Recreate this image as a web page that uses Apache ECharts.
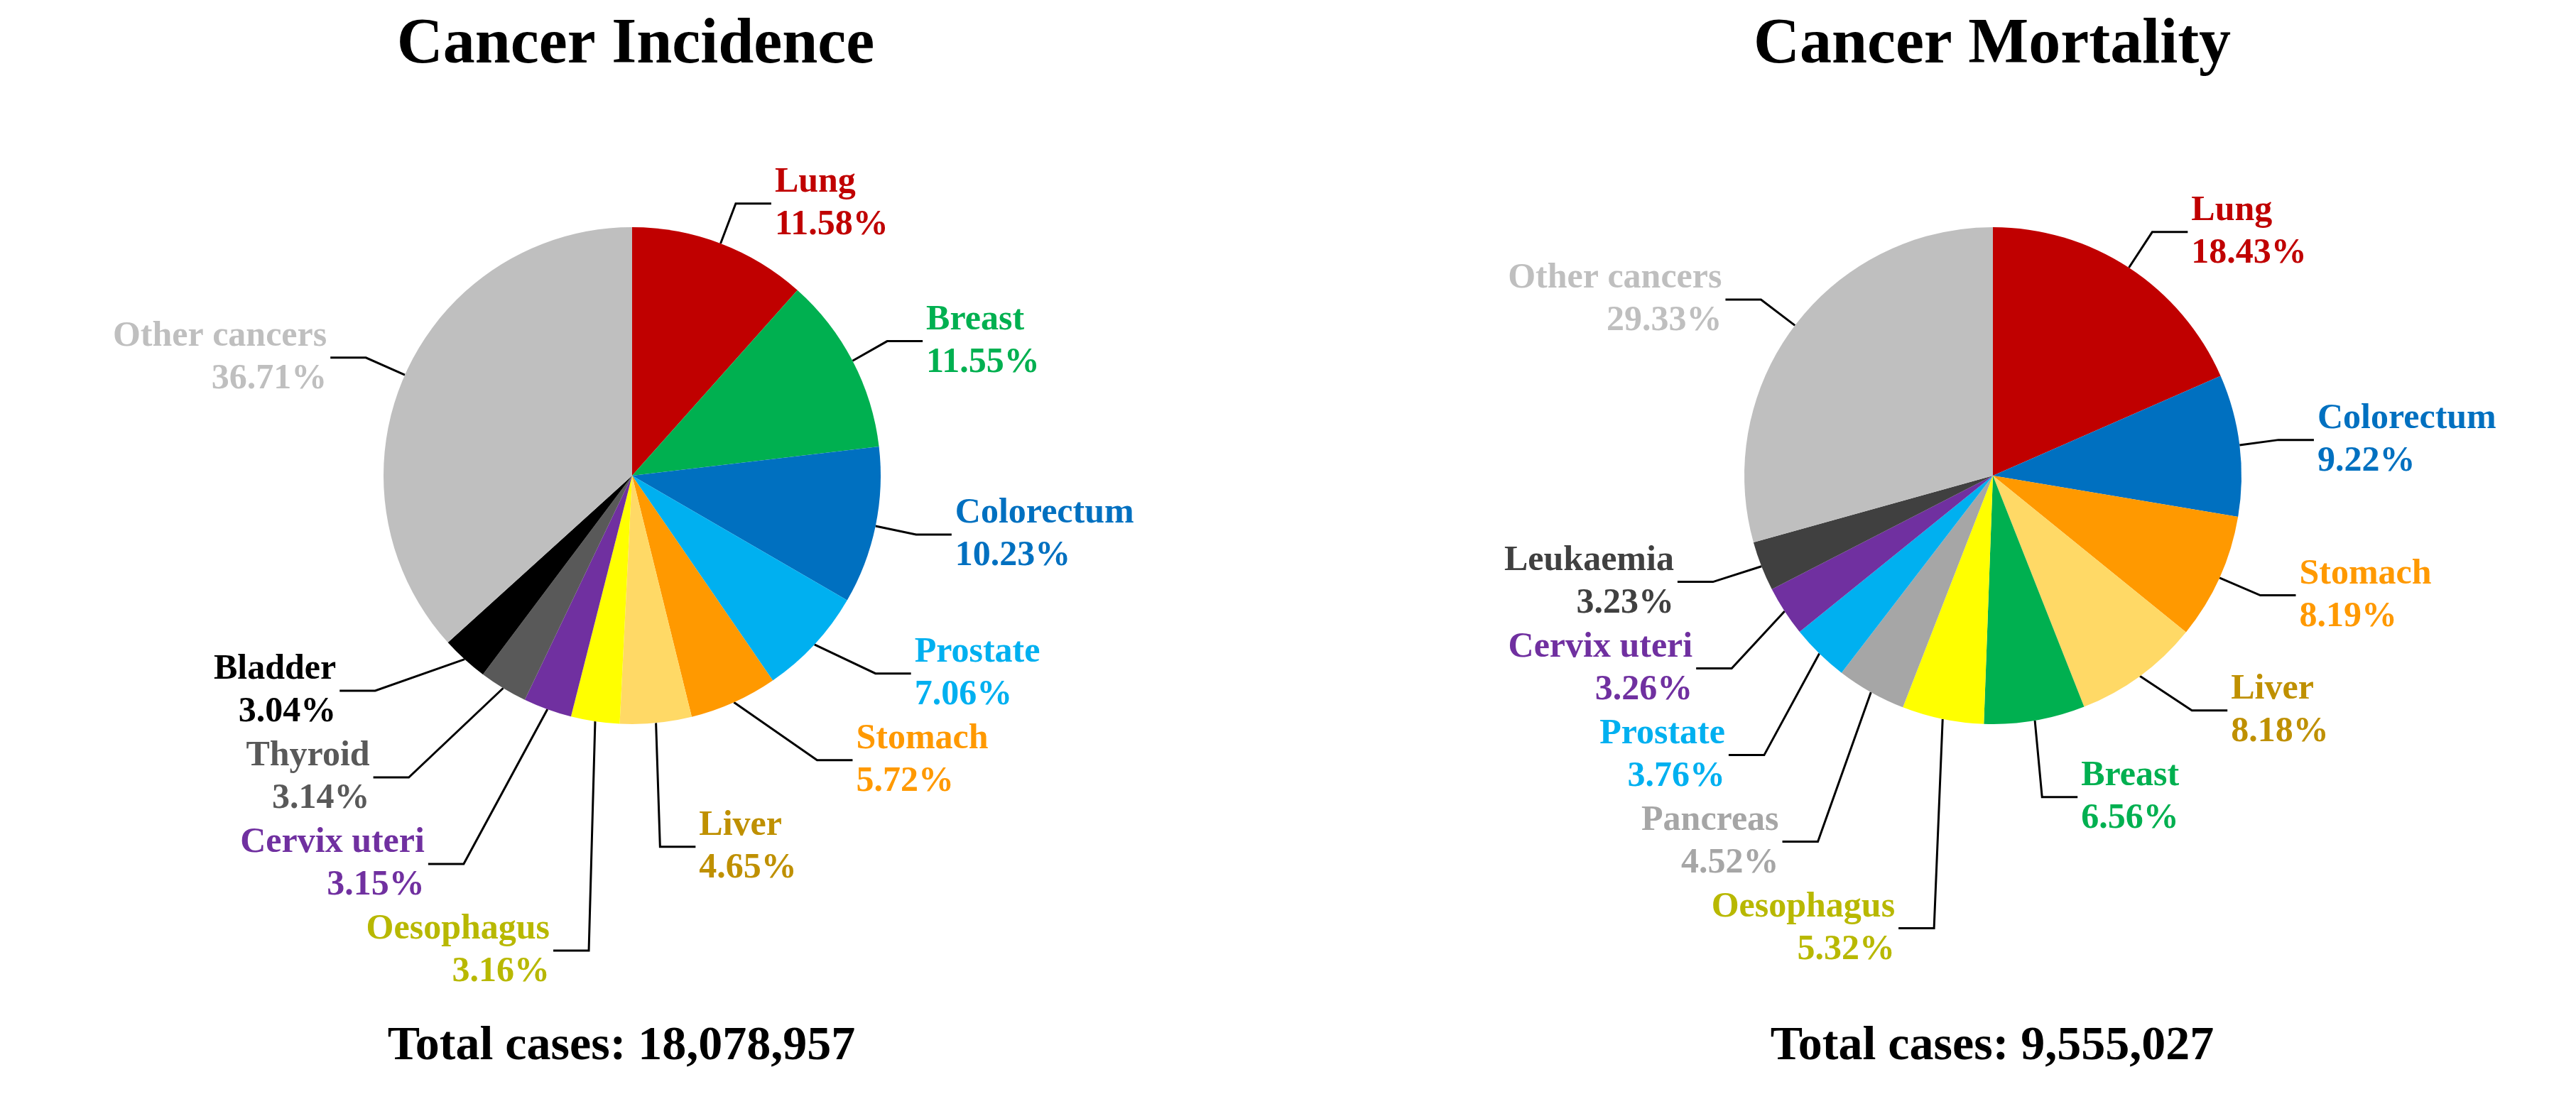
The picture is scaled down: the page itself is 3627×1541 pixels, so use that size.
<!DOCTYPE html>
<html><head><meta charset="utf-8">
<script src="https://cdn.jsdelivr.net/npm/echarts@6/dist/echarts.min.js"></script>
<style>html,body{margin:0;padding:0;background:#fff}#c{width:3627px;height:1541px}</style>
</head><body><div id="c"></div>
<script>
const incNames = ['Lung','Breast','Colorectum','Prostate','Stomach','Liver','Oesophagus','Cervix uteri','Thyroid','Bladder','Other cancers'];
const incValues = [11.58,11.55,10.23,7.06,5.72,4.65,3.16,3.15,3.14,3.04,36.71];
const incColors = ['#c00000','#00b050','#0070c0','#00b0f0','#ff9900','#ffd966','#ffff00','#7030a0','#595959','#000000','#bfbfbf'];
const incLabelColors = ['#c00000','#00b050','#0070c0','#00b0f0','#ff9900','#bf9000','#b8b800','#7030a0','#595959','#000000','#bfbfbf'];
const morNames = ['Lung','Colorectum','Stomach','Liver','Breast','Oesophagus','Pancreas','Prostate','Cervix uteri','Leukaemia','Other cancers'];
const morValues = [18.43,9.22,8.19,8.18,6.56,5.32,4.52,3.76,3.26,3.23,29.33];
const morColors = ['#c00000','#0070c0','#ff9900','#ffd966','#00b050','#ffff00','#a6a6a6','#00b0f0','#7030a0','#404040','#bfbfbf'];
const morLabelColors = ['#c00000','#0070c0','#ff9900','#bf9000','#00b050','#b8b800','#a6a6a6','#00b0f0','#7030a0','#404040','#bfbfbf'];
const titles = ['Cancer Incidence','Cancer Mortality'];
const totals = ['Total cases: 18,078,957','Total cases: 9,555,027'];

const font = 'Liberation Serif';
function mk(names, values, colors, lcolors){
  return names.map((n,i)=>({name:n,value:values[i],itemStyle:{color:colors[i]},
    label:{color:lcolors[i]}}));
}
function series(data, cx){
  return {type:'pie',center:[cx,670],radius:[0,350],startAngle:90,clockwise:true,
    data:data,
    label:{show:true,fontFamily:font,fontWeight:'bold',fontSize:50,lineHeight:60,
      formatter:p=>p.name+'\n'+p.value.toFixed(2)+'%'},
    labelLine:{show:true,length:60,length2:50,lineStyle:{color:'#000',width:3}},
    avoidLabelOverlap:true};
}
const chart = echarts.init(document.getElementById('c'));
chart.setOption({
  backgroundColor:'#fff',
  title:[
    {text:titles[0],left:890,top:15,textAlign:'center',textStyle:{fontFamily:font,fontWeight:'bold',fontSize:90,color:'#000'}},
    {text:titles[1],left:2800,top:15,textAlign:'center',textStyle:{fontFamily:font,fontWeight:'bold',fontSize:90,color:'#000'}},
    {text:totals[0],left:870,top:1435,textAlign:'center',textStyle:{fontFamily:font,fontWeight:'bold',fontSize:68,color:'#000'}},
    {text:totals[1],left:2800,top:1435,textAlign:'center',textStyle:{fontFamily:font,fontWeight:'bold',fontSize:68,color:'#000'}}
  ],
  series:[series(mk(incNames,incValues,incColors,incLabelColors),890),
          series(mk(morNames,morValues,morColors,morLabelColors),2806)]
});
</script></body></html>
